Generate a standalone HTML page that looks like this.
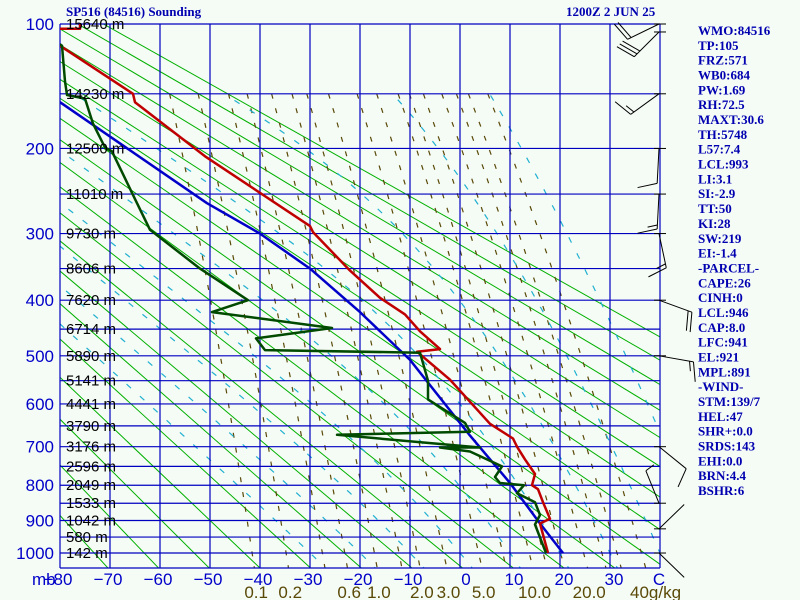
<!DOCTYPE html>
<html><head><meta charset="utf-8"><style>
html,body{margin:0;padding:0;background:#f5fbf5;}
svg{display:block;}
.lbl{font-family:"Liberation Sans",sans-serif;}
.ser{font-family:"Liberation Serif",serif;font-weight:bold;}
</style></head><body>
<svg id="chart" width="800" height="600" viewBox="0 0 800 600" xmlns="http://www.w3.org/2000/svg">
<rect x="0" y="0" width="800" height="600" fill="#f5fbf5"/>
<defs><clipPath id="plotclip"><rect x="60" y="24" width="600" height="544"/></clipPath></defs>
<g id="bg" clip-path="url(#plotclip)"></g>
<g id="grid"></g>
<g id="series" clip-path="url(#plotclip)"></g>
<g id="labels"></g>
<g id="winds"></g>
<text x="66" y="16" class="ser" font-size="13" fill="#0000b0">SP516 (84516) Sounding</text>
<text x="566" y="16" class="ser" font-size="13" fill="#0000b0">1200Z  2 JUN 25</text>
<g id="stats"></g>
</svg>
<script>
// ---- data ----
const pressureLevels = [100,150,200,250,300,350,400,450,500,550,600,650,700,750,800,850,900,950,1000];
const pressureLabels = [100,200,300,400,500,600,700,800,900,1000];
const heightLabels = ["15640","14230","12500","11010","9730","8606","7620","6714","5890","5141","4441","3790","3176","2596","2049","1533","1042","580","142"];
const tempTicks = [-80,-70,-60,-50,-40,-30,-20,-10,0,10,20,30];
const mixLabels = [0.1,0.2,0.6,1.0,2.0,3.0,5.0,10.0,20.0];
const mixLines = [0.1,0.2,0.4,0.6,1,1.5,2,3,5,7,10,12,15,20,25,30,40];
const thetaLines = [200,210,220,230,240,250,260,270,280,290,300,310,320,330,340,350,360,370,380,390];
const moistStarts = [-30,-20,-10,0,10,20,30,40,50];

const stratTempP = [103,103,100];
const stratTempT = [-80,-76,-76];
const tempP = [114,150,157,208,290,298,353,396,424,454,487,492,548,645,680,700,732,770,800,811,847,895,909,1000];
const tempT = [-80,-65.4,-65,-51,-30,-29.4,-22,-16,-11,-8,-4,-8.6,-2,6,10.6,11.4,13,15,14.4,15.6,16.6,18,16,17.6];
const dewP = [113,114,140,151,154,176,199,203,251,295,350,400,420,448,467,489,494,550,590,643,664,671,702,702,712,750,778,794,800,822,847,884,912,1000];
const dewT = [-80,-79.6,-79,-78.6,-75,-73.4,-71,-69.6,-65.4,-62,-52,-42.4,-49.6,-25.6,-40.8,-39,-8,-6.4,-6.4,1,2,-24.6,4,-4,2,8.4,7,8,12.8,11.4,15,16,15,17.2];
const parcelP = [157,261,300,350,420,508,673,794,909,1000];
const parcelT = [-80,-50.6,-40,-30,-20,-10,2,10,16,20.6];

const windP = [100,105,150,200,250,300,400,500,700,850,925,1000];
const windDir = [244,225,234,183,183,168,110,100,129,338,46,134];
const windSpd = [20,30,15,10,15,15,20,15,10,5,3,3];

const statLines = ["WMO:84516","TP:105","FRZ:571","WB0:684","PW:1.69","RH:72.5","MAXT:30.6","TH:5748","L57:7.4","LCL:993","LI:3.1","SI:-2.9","TT:50","KI:28","SW:219","EI:-1.4","-PARCEL-","CAPE:26","CINH:0","LCL:946","CAP:8.0","LFC:941","EL:921","MPL:891","-WIND-","STM:139/7","HEL:47","SHR+:0.0","SRDS:143","EHI:0.0","BRN:4.4","BSHR:6"];

// ---- axes ----
const K = 0.286, P0 = Math.pow(100, K), YS = 152.08;
function yP(p){ return 24 + YS*(Math.pow(p,K) - P0); }
function xT(t){ return 60 + (t+80)*5; }
const NS = "http://www.w3.org/2000/svg";
function mk(tag, parent, attrs){
  const e = document.createElementNS(NS, tag);
  for (const k in attrs) e.setAttribute(k, attrs[k]);
  parent.appendChild(e); return e;
}
function es(tc){ return 6.112*Math.exp(17.67*tc/(tc+243.5)); }
function ptsStr(ps, ts){ return ps.map((p,i)=>xT(ts[i]).toFixed(1)+","+yP(p).toFixed(1)).join(" "); }

const bg = document.getElementById("bg");
// dry adiabats
thetaLines.forEach(th=>{
  const ps=[], ts=[];
  [90,1060].forEach(p=>{ ps.push(p); ts.push(th*Math.pow(p/1000,K)-273.15); });
  const l = mk("polyline", bg, {points: ptsStr(ps,ts), fill:"none", stroke:"#00b000", "stroke-width":1});
  
  
});
// mixing ratio lines
mixLines.forEach(w=>{
  const ps=[], ts=[];
  for (let p=150; p<=1060; p+=10){
    const e = w*p/(622+w); const L = Math.log(e/6.112);
    ps.push(p); ts.push(243.5*L/(17.67-L));
  }
  const l = mk("polyline", bg, {points: ptsStr(ps,ts), fill:"none", stroke:"#5a4a08", "stroke-width":1.2, "stroke-dasharray":"5 10"});
  
  
});
// moist adiabats
function moistRate(T,p){
  const tc=T-273.15, e=es(tc), rs=0.622*e/(p-e);
  return (287*T + 2.5e6*rs)/(p*(1004 + 2.5e6*2.5e6*rs*0.622/(287*T*T)));
}
moistStarts.forEach(t0=>{
  const up=[], down=[];
  let T=t0+273.15;
  for (let p=1000; p>=150; p-=5){ up.push([p,T-273.15]); T -= moistRate(T,p)*5; }
  T=t0+273.15;
  for (let p=1000; p<=1060; p+=5){ down.push([p,T-273.15]); T += moistRate(T,p)*5; }
  const all = down.reverse().concat(up.slice(1));
  const l = mk("polyline", bg, {points: ptsStr(all.map(a=>a[0]), all.map(a=>a[1])), fill:"none", stroke:"#20b0d0", "stroke-width":1.2, "stroke-dasharray":"6 12"});
  
  
});

// grid
const grid = document.getElementById("grid");
pressureLevels.forEach(p=>{
  const l = mk("line", grid, {x1:60, x2:660, y1:yP(p), y2:yP(p), stroke:"#0000c0", "stroke-width":1.2});
  
  
});
tempTicks.concat([40]).forEach(t=>{
  const l = mk("line", grid, {x1:xT(t), x2:xT(t), y1:24, y2:568, stroke:"#0000c0", "stroke-width":1.2});
  
  
});
const bl = mk("line", grid, {x1:60, x2:660, y1:568, y2:568, stroke:"#0000c0", "stroke-width":1.2});



// labels
const lab = document.getElementById("labels");
pressureLabels.forEach(p=>{
  const t = mk("text", lab, {x:54, y:yP(p)+6, "text-anchor":"end", "font-size":17, fill:"#0000c8", class:"lbl"});
  t.textContent = p;
  
  
});
pressureLevels.forEach((p,i)=>{
  const t = mk("text", lab, {x:66, y:yP(p)+5, "font-size":15, fill:"#000", class:"lbl"});
  t.textContent = heightLabels[i]+" m";
  
  
});
tempTicks.forEach(tv=>{
  const t = mk("text", lab, {x:xT(tv)+(tv>0?4:(tv<0?-2:6)), y:585, "text-anchor":"middle", "font-size":17, fill:"#0000c8", class:"lbl"});
  t.textContent = tv<0 ? "\u2212"+(-tv) : String(tv);
  
  
});
{
  const t = mk("text", lab, {x:659, y:585, "text-anchor":"middle", "font-size":17, fill:"#0000c8", class:"lbl"});
  t.textContent = "C";
  
  
  const m = mk("text", lab, {x:32, y:585, "font-size":17, fill:"#0000c8", class:"lbl"});
  m.textContent = "mb";
  
  
}
function mixX(w,p){ const e=w*p/(622+w); const L=Math.log(e/6.112); return xT(243.5*L/(17.67-L)); }
mixLabels.forEach(w=>{
  const t = mk("text", lab, {x:mixX(w,1044)+2, y:598, "text-anchor":"middle", "font-size":17, fill:"#5a4a08", class:"lbl"});
  t.textContent = w.toFixed(1);
  
  
});
{
  const t = mk("text", lab, {x:630, y:598, "font-size":17, fill:"#5a4a08", class:"lbl"});
  t.textContent = "40g/kg";
  
  
}

// series
const ser = document.getElementById("series");
function line(ps, ts, col, name){
  const l = mk("polyline", ser, {points: ptsStr(ps,ts), fill:"none", stroke:col, "stroke-width":2.5, "stroke-linejoin":"round"});
  
  
}
line(parcelP, parcelT, "#0000c8", "parcel-line");
line(stratTempP, stratTempT, "#c00000", "temperature-line-top");
line(tempP, tempT, "#c00000", "temperature-line");
line(dewP, dewT, "#004a00", "dewpoint-line");

// winds
const wg = document.getElementById("winds");
windP.forEach((p,i)=>{
  const bx=659, by=yP(p);
  const tk = mk("line", wg, {x1:654, x2:666, y1:by, y2:by, stroke:"#000", "stroke-width":1});
  
  
  const d = windDir[i]*Math.PI/180;
  const ux=Math.sin(d), uy=-Math.cos(d);
  const tx=bx+35*ux, ty=by+35*uy;
  const st = mk("line", wg, {x1:bx, y1:by, x2:tx, y2:ty, stroke:"#000", "stroke-width":1});
  
  
  const a = Math.atan2(uy,ux) + 75*Math.PI/180;
  let s = windSpd[i], k = 0;
  while (s >= 5){
    const len = s>=10 ? 20 : 10;
    const sx = tx - ux*4*k, sy = ty - uy*4*k;
    const b = mk("line", wg, {x1:sx, y1:sy, x2:sx+len*Math.cos(a), y2:sy+len*Math.sin(a), stroke:"#000", "stroke-width":1});
    
    
    s -= (s>=10?10:5); k++;
  }
});

// stats
const sg = document.getElementById("stats");
statLines.forEach((s,i)=>{
  const t = mk("text", sg, {x:698, y:35+i*14.84, "font-size":13, fill:"#0000b0", class:"ser"});
  t.textContent = s;
  
  
});
</script>
</body></html>
